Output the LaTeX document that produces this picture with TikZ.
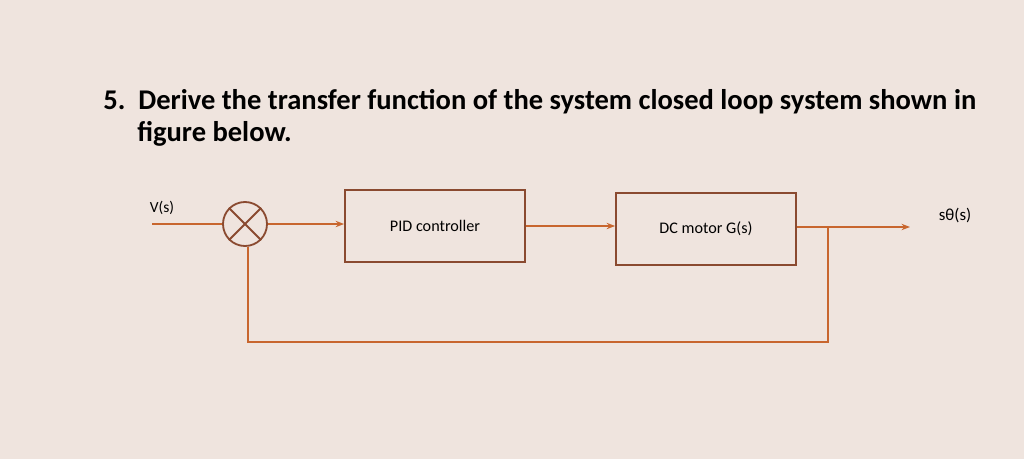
\documentclass[tikz,border=0pt]{standalone}
\usepackage{fontspec}
\setmainfont{Carlito}
\usetikzlibrary{arrows.meta}
\definecolor{bg}{HTML}{EFE4DE}
\definecolor{ln}{HTML}{C8662E}
\definecolor{bx}{HTML}{8A4A30}
\tikzset{conn/.style={ln,line width=1.3pt},
arr/.style={conn,-{Stealth[length=6pt]}},
blk/.style={draw=bx,line width=1.3pt,fill=bg,minimum width=180\px,minimum height=72\px,font=\fontsize{11.5}{13}\selectfont}}
\newlength\px \setlength\px{0.025cm}
\begin{document}
\begin{tikzpicture}[x=0.025cm,y=-0.025cm]
\fill[bg] (0,0) rectangle (1024,459);
\useasboundingbox (0,0) rectangle (1024,459);
\node[anchor=west,inner sep=0,font=\bfseries\fontsize{20.3}{24}\selectfont] (t1) at (103,102) {5.\ \ Derive the transfer function of the system closed loop system shown in};
\node[anchor=west,inner sep=0,font=\bfseries\fontsize{20.3}{24}\selectfont] (t2) at (137,134) {figure below.};
\node[draw=bx,line width=1.3pt,circle,minimum size=44\px,inner sep=0] (s) at (245,224) {};
\draw[bx,line width=1.3pt] (s.north west)--(s.south east) (s.north east)--(s.south west);
\node[font=\fontsize{11}{12}\selectfont] (v) at (162,208) {V(s)};
\coordinate (in) at (152,224);
\node[blk] (pid) at (435,226) {PID controller};
\node[blk] (dc) at (706,229) {DC motor G(s)};
\node[font=\fontsize{12}{13}\selectfont] (o) at (955,215) {s\symbol{"03B8}(s)};
\coordinate (out) at (910,227);
\coordinate (br) at (828,227);
\coordinate (fb1) at (828,342);
\coordinate (fb2) at (248,342);
\draw[conn] (in)--(s.west);
\draw[arr] (s.east)--(pid.west |- s.east);
\draw[arr] (pid.east)--(dc.west |- pid.east);
\draw[arr] (dc.east |- out)--(out);
\draw[conn] (br)--(fb1)--(fb2)--(fb2 |- s.south);
\end{tikzpicture}
\end{document}
